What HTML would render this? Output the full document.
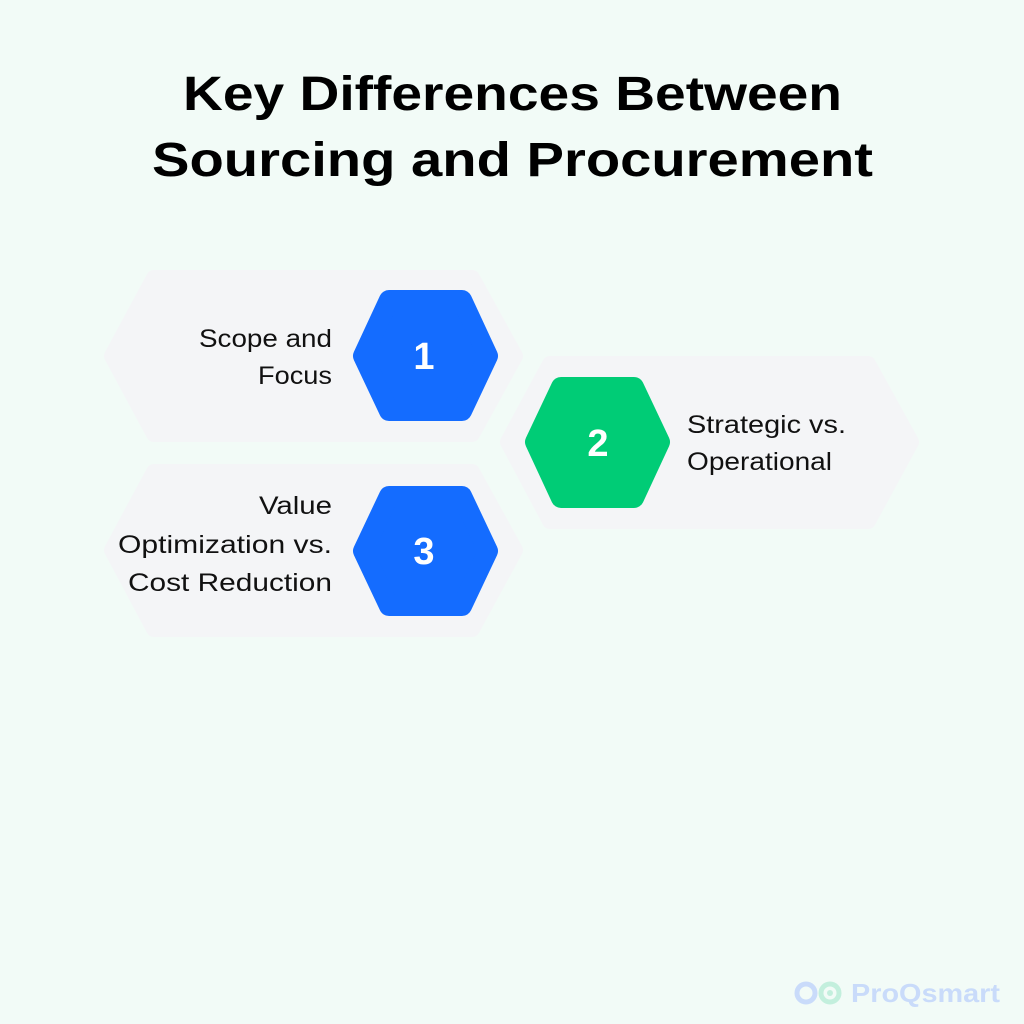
<!DOCTYPE html>
<html><head><style>
html,body{margin:0;padding:0;background:#f2fbf7;}
body{width:1024px;height:1024px;position:relative;overflow:hidden;font-family:"Liberation Sans",sans-serif;}
</style></head><body>
<svg width="1024" height="1024" viewBox="0 0 1024 1024" style="position:absolute;left:0;top:0">
<rect width="1024" height="1024" fill="#f2fbf7"/>
<text x="183" y="110" textLength="659" lengthAdjust="spacingAndGlyphs" font-family="Liberation Sans" font-weight="bold" font-size="48" fill="#000">Key Differences Between</text>
<text x="152" y="176" textLength="721" lengthAdjust="spacingAndGlyphs" font-family="Liberation Sans" font-weight="bold" font-size="48" fill="#000">Sourcing and Procurement</text>
<g fill="#f4f5f7" stroke="#f4f5f7" stroke-width="16" stroke-linejoin="round">
<polygon points="154,278 472,278 515,356 472,434 154,434 112,356"/>
<polygon points="550,364 868,364 911,442 868,521 550,521 508,442"/>
<polygon points="154,472 472,472 515,550 472,629 154,629 112,550"/>
</g>
<g stroke-width="20" stroke-linejoin="round">
<polygon points="389,300 462,300 488,356 462,411 389,411 363,356" fill="#146cff" stroke="#146cff"/>
<polygon points="561,387 634,387 660,442 634,498 561,498 535,442" fill="#00cc76" stroke="#00cc76"/>
<polygon points="389,496 462,496 488,551 462,606 389,606 363,551" fill="#146cff" stroke="#146cff"/>
</g>
<g font-family="Liberation Sans" font-weight="bold" font-size="38" fill="#fff" text-anchor="middle">
<text x="424" y="369">1</text><text x="598" y="456">2</text><text x="424" y="564">3</text>
</g>
<g font-family="Liberation Sans" font-size="25" fill="#111" lengthAdjust="spacingAndGlyphs">
<text x="199" y="347" textLength="133" lengthAdjust="spacingAndGlyphs">Scope and</text>
<text x="258" y="384" textLength="74" lengthAdjust="spacingAndGlyphs">Focus</text>
<text x="687" y="433" textLength="159" lengthAdjust="spacingAndGlyphs">Strategic vs.</text>
<text x="687" y="470" textLength="145" lengthAdjust="spacingAndGlyphs">Operational</text>
<text x="259" y="514" textLength="73" lengthAdjust="spacingAndGlyphs">Value</text>
<text x="118" y="553" textLength="214" lengthAdjust="spacingAndGlyphs">Optimization vs.</text>
<text x="128" y="591" textLength="204" lengthAdjust="spacingAndGlyphs">Cost Reduction</text>
</g>
<g opacity="0.9">
<circle cx="806" cy="993" r="9" fill="none" stroke="#c5d8fb" stroke-width="5"/>
<circle cx="830" cy="993" r="9" fill="none" stroke="#bfeedb" stroke-width="5"/>
<circle cx="830" cy="993" r="3" fill="#bfeedb"/>
<text x="851" y="1002" textLength="149" lengthAdjust="spacingAndGlyphs" font-family="Liberation Sans" font-weight="bold" font-size="26" fill="#c5d8fb">ProQsmart</text>
</g>
</svg>
</body></html>
